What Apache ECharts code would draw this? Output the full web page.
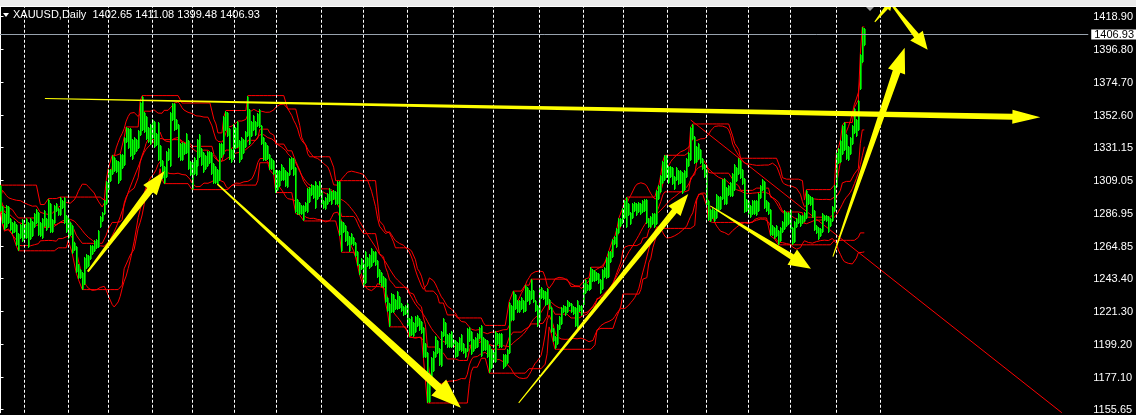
<!DOCTYPE html>
<html><head><meta charset="utf-8">
<script src="https://cdn.jsdelivr.net/npm/echarts@6/dist/echarts.min.js"></script>
<style>html,body{margin:0;padding:0;background:#000;overflow:hidden}#c{width:1136px;height:415px;}</style>
</head><body><div id="c"></div>
<script>
// ---------- data ----------
const symbolName = 'XAUUSD,Daily';
const lastBarOHLC = ['1402.65', '1411.08', '1399.48', '1406.93'];
const lastPrice = 1406.93;
const priceTicks = [1418.90, 1396.80, 1374.70, 1352.60, 1331.15, 1309.05, 1286.95, 1264.85, 1243.40, 1221.30, 1199.20, 1177.10, 1155.65];
// bar index where each month begins (period separators)
const monthStarts = [12, 34, 54, 76, 96, 117, 138, 161, 182, 204, 227, 247, 270, 292, 312, 334, 354, 375, 396, 419, 441];
const highs = [
1306,1292,1287,1293,1292,1284,1281,1282,1280,1274,1280,1283,
1280,1284,1281,1284,1282,1287,1290,1288,1281,1284,1289,1284,1297,1294,1283,1293,1294,1291,1298,1296,1298,1286,
1284,1281,1279,1268,1265,1253,1250,1248,1258,1260,1259,1266,1266,1269,1270,1276,1285,1288,1296,1309,
1317,1317,1326,1325,1323,1322,1327,1327,1338,1345,1344,1344,1337,1338,1337,1343,1362,1366,1355,1352,1345,1347,
1350,1349,1341,1348,1333,1323,1319,1329,1331,1355,1361,1361,1350,1347,1334,1335,1334,1341,1336,1322,
1322,1325,1323,1337,1340,1331,1328,1326,1329,1329,1328,1321,1319,1317,1334,1334,1352,1356,1355,1344,1330,
1347,1345,1349,1336,1338,1337,1342,1366,1357,1349,1353,1349,1354,1357,1346,1338,1335,1333,1327,1324,1323,
1316,1316,1316,1320,1318,1316,1315,1324,1325,1324,1318,1297,1295,1293,1293,1295,1304,1305,1307,1306,1309,1306,1309,
1303,1296,1298,1301,1304,1302,1303,1302,1309,1309,1282,1281,1279,1275,1272,1274,1271,1268,1262,1253,1257,
1254,1262,1258,1260,1264,1262,1262,1256,1250,1248,1245,1244,1231,1227,1234,1233,1230,1235,1232,1227,1225,1226,
1227,1217,1218,1214,1218,1219,1217,1215,1211,1200,1194,1180,1191,1195,1205,1202,1197,1208,1217,1214,1206,1207,1208,
1203,1202,1201,1204,1206,1200,1197,1210,1211,1208,1203,1204,1207,1211,1212,1204,1203,1202,1199,1196,
1195,1208,1207,1207,1207,1193,1193,1196,1228,1226,1235,1233,1229,1229,1231,1229,1239,1238,1236,1243,1236,1229,1226,
1237,1238,1236,1235,1237,1230,1224,1210,1205,1213,1218,1224,1226,1225,1229,1228,1227,1225,1224,1229,1226,1226,
1241,1243,1240,1244,1251,1250,1249,1248,1247,1243,1250,1251,1258,1262,1262,1270,1272,1277,1284,1284,
1291,1296,1298,1294,1288,1294,1295,1294,1295,1294,1296,1297,1297,1284,1285,1287,1287,1303,1306,1313,1322,1326,
1326,1319,1319,1318,1312,1318,1316,1316,1315,1316,1324,1328,1345,1347,1339,1332,1334,1330,1324,1320,
1317,1296,1290,1291,1289,1300,1299,1299,1310,1311,1305,1306,1308,1314,1320,1318,1324,1323,1317,1311,1297,
1296,1293,1296,1296,1296,1301,1306,1310,1309,1296,1295,1290,1279,1278,1279,1276,1278,1282,1289,1288,1288,
1290,1278,1282,1284,1287,1286,1286,1288,1303,1300,1299,1298,1289,1279,1278,1277,1287,1286,1286,1285,1284,1292,1306,
1328,1331,1336,1346,1348,1340,1332,1338,1346,1358,1350,1363,1394,1412,1411.08
];
const lows = [
1288,1280,1276,1277,1280,1275,1273,1274,1265,1262,1270,1268,
1270,1270,1264,1269,1271,1277,1280,1272,1271,1270,1278,1275,1277,1274,1274,1280,1288,1285,1285,1290,1280,1274,
1270,1272,1260,1262,1247,1243,1243,1236,1239,1250,1251,1256,1259,1261,1263,1264,1277,1281,1286,1293,
1302,1308,1313,1315,1314,1307,1309,1317,1319,1334,1330,1325,1323,1326,1328,1330,1339,1342,1341,1336,1334,1333,
1337,1331,1332,1322,1318,1310,1307,1311,1322,1318,1349,1342,1343,1324,1322,1322,1326,1327,1316,1312,
1303,1313,1312,1318,1324,1319,1314,1316,1318,1320,1313,1307,1307,1306,1309,1324,1326,1342,1338,1323,1321,
1323,1330,1331,1321,1323,1327,1331,1338,1333,1338,1342,1339,1345,1344,1333,1322,1322,1323,1316,1316,1313,
1301,1302,1305,1309,1309,1305,1304,1312,1316,1312,1287,1286,1286,1286,1282,1288,1287,1294,1299,1297,1290,1296,1298,
1293,1290,1289,1293,1295,1293,1296,1293,1293,1272,1261,1274,1268,1265,1261,1266,1265,1258,1252,1246,1249,
1238,1240,1251,1250,1251,1254,1252,1244,1240,1238,1237,1227,1221,1211,1220,1220,1222,1222,1223,1221,1218,1219,
1211,1204,1205,1204,1207,1211,1208,1206,1190,1190,1160,1160,1173,1181,1190,1193,1185,1184,1204,1199,1197,1197,1197,
1199,1190,1191,1195,1194,1193,1190,1194,1201,1192,1194,1196,1197,1203,1191,1195,1195,1190,1180,1183,
1187,1187,1199,1197,1197,1183,1184,1186,1193,1215,1215,1222,1220,1220,1222,1220,1221,1228,1226,1229,1227,1221,1211,
1214,1230,1229,1225,1226,1222,1207,1201,1196,1199,1209,1212,1220,1218,1220,1224,1220,1219,1211,1210,1221,1218,
1225,1233,1235,1235,1236,1241,1241,1242,1240,1233,1236,1244,1243,1244,1254,1257,1266,1264,1273,1278,
1280,1283,1277,1285,1279,1283,1288,1285,1287,1286,1287,1288,1280,1277,1277,1279,1277,1279,1296,1301,1307,1309,
1311,1307,1311,1306,1303,1309,1306,1307,1300,1302,1311,1318,1322,1336,1320,1321,1323,1320,1316,1311,
1292,1282,1281,1283,1281,1283,1288,1289,1296,1293,1293,1299,1298,1298,1302,1308,1313,1310,1306,1287,1288,
1286,1284,1286,1286,1285,1288,1297,1302,1290,1288,1286,1272,1272,1270,1271,1266,1268,1274,1276,1278,1279,
1276,1266,1267,1277,1280,1278,1280,1281,1283,1293,1292,1284,1275,1273,1269,1271,1274,1282,1281,1274,1278,1281,1288,
1304,1320,1321,1326,1329,1323,1322,1326,1333,1340,1338,1342,1370,1388,1399.48
];
// drawn red trend line: [barIndex, price] end points
const trendLine = [[346, 1349.6], [532, 1153.5]];
// drawn yellow arrows: [tailIndex, tailPrice, tipIndex, tipPrice]
const arrows = [
  [22.25, 1364.0, 521.25, 1351.4],
  [43.75, 1248.0, 82.25, 1315.4],
  [108.75, 1306.7, 230.75, 1156.8],
  [259.75, 1160.1, 344.75, 1300.1],
  [355.75, 1292.1, 406.25, 1250.0],
  [417.25, 1258.1, 453.25, 1398.0],
  [438.25, 1415.4, 447.25, 1430.0],
  [446.25, 1428.0, 464.75, 1396.7]
];

// ---------- styles ----------
const arrowShapes = [
  {w0: 1, w1: 6, hw: 14, hl: 28},
  {w0: 2, w1: 7, hw: 17, hl: 24},
  {w0: 1.5, w1: 8, hw: 22, hl: 30},
  {w0: 1, w1: 6, hw: 16, hl: 22},
  {w0: 1, w1: 6, hw: 18, hl: 22},
  {w0: 1, w1: 8, hw: 18, hl: 25},
  {w0: 1, w1: 4, hw: 10, hl: 10},
  {w0: 2, w1: 6, hw: 16, hl: 18}
];
const FONT = '"Liberation Sans Narrow", "Liberation Sans", Arial, sans-serif';
const RED = '#ff0000';
const GREEN = '#00ff00';

// ---------- indicators ----------
const N = highs.length;
const median = highs.map((h, i) => (h + lows[i]) / 2);
function bollinger(period, dev) {
  const up = [], mid = [], lo = [];
  for (let i = 0; i < N; i++) {
    const s = Math.max(0, i - period + 1);
    const w = median.slice(s, i + 1);
    const m = w.reduce((a, b) => a + b, 0) / w.length;
    const sd = Math.sqrt(w.reduce((a, b) => a + (b - m) * (b - m), 0) / w.length);
    up.push([i, m + dev * sd]); mid.push([i, m]); lo.push([i, m - dev * sd]);
  }
  return [up, mid, lo];
}
function donchian(period) {
  const up = [], mid = [], lo = [];
  for (let i = 0; i < N; i++) {
    const s = Math.max(0, i - period + 1);
    const hh = Math.max(...highs.slice(s, i + 1));
    const ll = Math.min(...lows.slice(s, i + 1));
    up.push([i, hh]); lo.push([i, ll]); mid.push([i, (hh + ll) / 2]);
  }
  return [up, mid, lo];
}
const bb = bollinger(20, 2);
const dc = donchian(20);
function redLine(data) {
  return {type: 'line', data, showSymbol: false, symbol: 'none', silent: true,
    lineStyle: {color: RED, width: 1}, itemStyle: {color: RED}, z: 3};
}

const chart = echarts.init(document.getElementById('c'), null, {renderer: 'canvas'});
chart.setOption({
  backgroundColor: '#000',
  animation: false,
  color: [GREEN],
  grid: {left: 0, right: 45, top: 7, bottom: 0, containLabel: false},
  xAxis: {type: 'value', min: -0.25, max: 545.25, show: false},
  yAxis: {
    type: 'value', position: 'right', min: 1153.46, max: 1425.36,
    axisLine: {show: true, lineStyle: {color: '#ffffff', width: 1}},
    axisTick: {show: true, length: 3, customValues: priceTicks, lineStyle: {color: '#ffffff'}},
    axisLabel: {customValues: priceTicks, formatter: v => v.toFixed(2), color: '#ffffff',
      fontFamily: FONT, fontSize: 11, margin: 5},
    splitLine: {show: false}
  },
  series: [
    // price bars (one vertical segment per day, low..high)
    {
      type: 'custom', z: 4, silent: true, clip: false,
      itemStyle: {color: GREEN},
      data: highs.map((h, i) => [i, h, lows[i]]),
      renderItem: (params, api) => {
        const a = api.coord([api.value(0), api.value(1)]);
        const b = api.coord([api.value(0), api.value(2)]);
        const x0 = Math.floor(a[0]);
        const y0 = Math.round(a[1]);
        const h = Math.max(1, Math.round(b[1]) - y0);
        return {type: 'group', children: [
          {type: 'rect', shape: {x: x0, y: y0, width: 1, height: h}, style: {fill: GREEN}},
          {type: 'rect', shape: {x: x0 + 1, y: y0 + 1, width: 1, height: Math.max(1, h - 2)}, style: {fill: '#00a000'}}
        ]};
      },
      markLine: {
        silent: true, symbol: ['none', 'none'], animation: false,
        label: {show: false},
        lineStyle: {color: '#ffffff', width: 1, type: [3, 2]},
        data: monthStarts.map(i => ({xAxis: i}))
      }
    },
    redLine(bb[0]), redLine(bb[1]), redLine(bb[2]),
    redLine(dc[0]), redLine(dc[1]), redLine(dc[2]),
    // red trend line
    redLine(trendLine),
    // current price line + label
    {
      type: 'line', data: [], silent: true,
      markLine: {
        silent: true, symbol: ['none', 'none'], animation: false,
        lineStyle: {color: '#98a2ad', width: 1, type: 'solid'},
        label: {show: true, position: 'end', formatter: lastPrice.toFixed(2), color: '#000',
          backgroundColor: '#ffffff', padding: [0, 2, 0, 3], distance: 3,
          fontFamily: FONT, fontSize: 11, lineHeight: 10},
        data: [{yAxis: lastPrice}]
      }
    },
    // yellow arrows
    {
      type: 'custom', z: 10, silent: true, clip: false,
      itemStyle: {color: '#ffff00'},
      data: arrows.map((a, k) => [a[0], a[1], a[2], a[3], k]),
      renderItem: (params, api) => {
        const A = api.coord([api.value(0), api.value(1)]);
        const B = api.coord([api.value(2), api.value(3)]);
        const s = arrowShapes[api.value(4)];
        const dx = B[0] - A[0], dy = B[1] - A[1];
        const L = Math.hypot(dx, dy);
        const ux = dx / L, uy = dy / L, nx = -uy, ny = ux;
        const H = [B[0] - ux * s.hl, B[1] - uy * s.hl];
        const p = (P, w) => [P[0] + nx * w / 2, P[1] + ny * w / 2];
        return {type: 'polygon', shape: {points: [
          p(A, s.w0), p(H, s.w1), p(H, s.hw), B, p(H, -s.hw), p(H, -s.w1), p(A, -s.w0)
        ]}, style: {fill: '#ffff00', stroke: null}};
      }
    }
  ],
  graphic: [
    {type: 'rect', shape: {x: 0, y: 0, width: 1136, height: 6}, style: {fill: '#ececec'}, z: 20},
    {type: 'rect', shape: {x: 0, y: 6, width: 1136, height: 1}, style: {fill: '#ffffff'}, z: 20},
    {type: 'polygon', shape: {points: [[3, 13], [9, 13], [6, 17]]}, style: {fill: '#ffffff'}, z: 20},
    {type: 'text', x: 13, y: 15, z: 20, style: {text: symbolName + '  ' + lastBarOHLC.join(' '),
      fill: '#ffffff', font: '11px ' + FONT, textVerticalAlign: 'middle'}},
    {type: 'polygon', shape: {points: [[866, 7], [874, 7], [870, 11]]}, style: {fill: '#a0a0a0'}, z: 20}
  ]
});
</script>
</body></html>
